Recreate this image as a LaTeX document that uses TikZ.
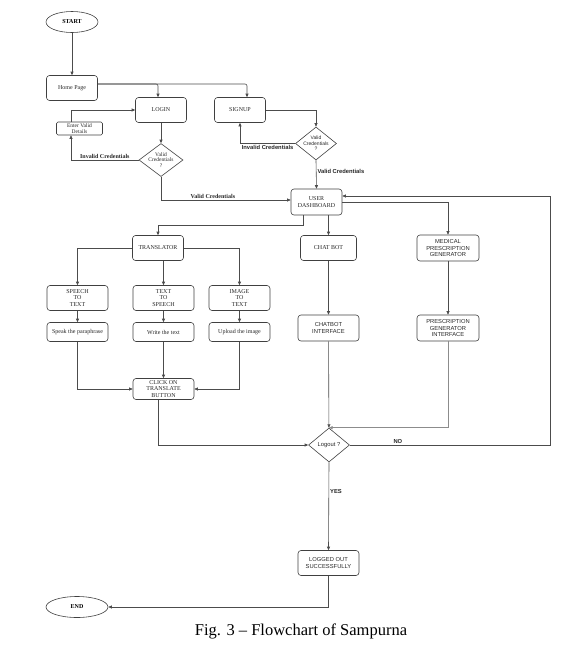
\documentclass[tikz,border=0pt]{standalone}
\usepackage{fontspec}
\setmainfont{Liberation Serif}
\setsansfont{Liberation Sans}
\usepackage{tikz}
\usetikzlibrary{shapes.geometric,arrows.meta}

\begin{document}
\begin{tikzpicture}[x=1pt,y=-1pt,
        box/.style={draw=black!75, rounded corners=3pt, line width=0.6pt, minimum width=51pt, minimum height=25pt, inner sep=0pt, align=center, text=black!85, font=\fontsize{6}{6.3}\selectfont},
        sbox/.style={box, font=\sffamily\fontsize{5.8}{6.3}\selectfont},
        term/.style={ellipse, draw=black!75, line width=0.6pt, inner sep=0pt, font=\bfseries\fontsize{6}{6}\selectfont},
        dec/.style={diamond, draw=black!75, line width=0.6pt, inner sep=-2pt, minimum width=44pt, minimum height=33pt, align=center, text=black!85, font=\fontsize{5.5}{5.6}\selectfont},
        arr/.style={draw=black!70, line width=0.6pt, -{Triangle[length=3.5pt,width=3pt]}},
        lbl/.style={font=\bfseries\fontsize{6}{6}\selectfont, inner sep=1pt, text=black!85},
        slbl/.style={lbl, font=\sffamily\bfseries\fontsize{5.8}{6}\selectfont}]
        \useasboundingbox (0,0) rectangle (570,646);

        % Text Node
        \node[term, minimum width=52pt, minimum height=21pt] (start) at (72,22) {START};
        \node[box] (home) at (72,88) {Home Page};
        \node[box] (login) at (161,110) {LOGIN};
        \node[box] (signup) at (240,110) {SIGNUP};
        \node[box, rounded corners=1.5pt, minimum width=46pt, minimum height=13pt, font=\fontsize{5.5}{5.6}\selectfont] (enter) at (79.5,128.5) {Enter Valid\\Details};
        \node[dec] (dlogin) at (161,160) {Valid\\Credentials\\?};
        \node[dec, minimum width=41pt, font=\sffamily\fontsize{5}{5.4}\selectfont] (dsignup) at (316,143.5) {Valid\\Credentials\\?};
        \node[box, minimum height=26pt] (dash) at (316.5,202) {USER\\DASHBOARD};
        % Text Node
        \node[box] (trans) at (158,248) {TRANSLATOR};
        \node[box, minimum width=56pt] (chat) at (328.5,248) {CHAT BOT};
        \node[sbox, minimum width=62pt, minimum height=26pt] (med) at (448,248) {MEDICAL\\PRESCRIPTION\\GENERATOR};
        \node[box, minimum width=61pt] (stt) at (77.5,298) {SPEECH\\TO\\TEXT};
        \node[box, minimum width=61pt] (tts) at (163.5,298) {TEXT\\TO\\SPEECH};
        \node[box, minimum width=61pt] (itt) at (239.5,298) {IMAGE\\TO\\TEXT};
        \node[box, minimum width=61pt, minimum height=19pt] (speak) at (77.5,332) {Speak the paraphrase};
        \node[box, minimum width=61pt, minimum height=19pt] (write) at (163.5,332) {Write the text};
        \node[box, minimum width=61pt, minimum height=19pt] (upload) at (239.5,332) {Upload the image};
        \node[box, minimum width=61pt, minimum height=21pt] (click) at (163.5,389) {CLICK ON\\TRANSLATE\\BUTTON};
        % Text Node
        \node[sbox, minimum width=61pt, minimum height=26pt] (chatif) at (328.5,328) {CHATBOT\\INTERFACE};
        \node[sbox, minimum width=62pt, minimum height=26pt] (presif) at (448,328) {PRESCRIPTION\\GENERATOR\\INTERFACE};
        \node[dec, minimum width=41pt, minimum height=34pt, font=\sffamily\fontsize{5.8}{6}\selectfont] (logout) at (329,445) {Logout ?};
        \node[sbox, minimum width=61pt] (loggedout) at (328.5,563) {LOGGED OUT\\SUCCESSFULLY};
        \node[term, minimum width=62pt, minimum height=21pt] (end) at (77,607) {END};
        \coordinate (rback) at (550,445);

        %Straight Lines
        \draw[arr] (start) -- (home);
        \draw[arr, rounded corners=2pt] ([yshift=4pt]home.east) -| ([xshift=-3pt]login.north);
        \draw[arr, rounded corners=2pt] ([yshift=4pt]home.east) -| ([xshift=7pt]signup.north);
        \draw[arr] ([xshift=-8.5pt]enter.north) |- (login.west);
        \draw[arr] (login) -- (dlogin);
        \draw[arr] (dlogin.west) -| node[lbl, above, pos=0.25] {Invalid Credentials} ([xshift=-8.5pt]enter.south);
        \draw[arr] (dlogin.south) |- node[lbl, above, pos=0.7] {Valid Credentials} ([yshift=2pt]dash.west);
        \draw[arr] (signup.east) -| (dsignup.north);
        \draw[arr] (dsignup.west) -| node[slbl, below, pos=0.25] {Invalid Credentials} (signup.south);
        \draw[arr] (dsignup.south) -- node[slbl, right, pos=0.4] {Valid Credentials} (dash.north);
        %Straight Lines
        \draw[arr] ([xshift=-13.5pt]dash.south) -- ++(0,10) -| (trans.north);
        \draw[arr] (dash.south -| chat.north) -- (chat.north);
        \draw[arr] (dash.east) -| (med.north);
        \draw[arr] (trans.west) -| (stt.north);
        \draw[arr] (trans.east) -| (itt.north);
        \draw[arr] (trans.south -| tts.north) -- (tts.north);
        \draw[arr] (stt) -- (speak);
        \draw[arr] (tts) -- (write);
        \draw[arr] (itt) -- (upload);
        \draw[arr] (speak.south) |- (click.west);
        \draw[arr] (write) -- (click);
        \draw[arr] (upload.south) |- (click.east);
        \draw[arr] ([xshift=-5.5pt]click.south) |- (logout.west);
        %Straight Lines
        \draw[arr] (chat) -- (chatif);
        \draw[arr] (med) -- (presif);
        \draw[arr] (chatif) -- (logout);
        \draw[arr, draw=black!45] (presif.south) |- (logout.north);
        \draw[arr] (logout.east) -- node[slbl, above, pos=0.24] {NO} (rback) |- ([yshift=6pt]dash.east);
        \draw[arr] (logout.south) -- node[slbl, right, pos=0.33] {YES} (loggedout.north);
        \draw[arr] (loggedout.south) |- (end.east);

        % Text Node
        \node[font=\fontsize{16.5}{18}\selectfont] (caption) at (301,631) {Fig. 3 -- Flowchart of Sampurna};
\end{tikzpicture}
\end{document}
